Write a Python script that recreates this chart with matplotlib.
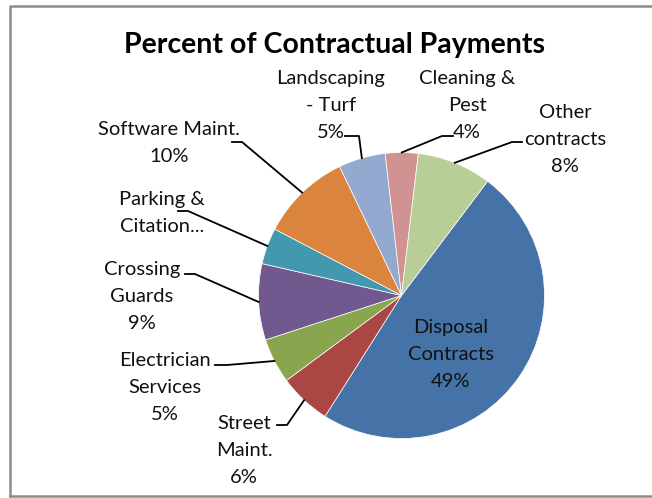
import matplotlib
matplotlib.use("Agg")
import matplotlib.pyplot as plt
from matplotlib.lines import Line2D
import numpy as np

# ---- data -------------------------------------------------------------
title = "Percent of Contractual Payments"
categories = [
    "Disposal\nContracts",
    "Street\nMaint.",
    "Electrician\nServices",
    "Crossing\nGuards",
    "Parking &\nCitation...",
    "Software Maint.",
    "Landscaping\n- Turf",
    "Cleaning &\nPest",
    "Other\ncontracts",
]
shares = [48.7, 5.9, 5.1, 8.6, 4.1, 10.2, 5.3, 3.7, 8.4]
show_pct = [True, True, True, True, False, True, True, True, True]
colors = ["#4572A7", "#AA4643", "#89A54E", "#71588F", "#4198AF",
          "#DB843D", "#93A9CF", "#D19392", "#B9CD96"]

# ---- layout (pixels, y measured downward) ------------------------------
W, H = 652, 498
CX, CY, R = 401.5, 295.5, 143
LINE_GAP = 27
# label centre x, first baseline y, leader start, leader elbow
label_layout = [
    (451, 333, None, None),
    (244, 429, (277, 425), (287, 425)),
    (165, 366, (215, 365), (227, 365)),
    (142, 275, (185, 274), (195, 274)),
    (162, 205, (178, 211), (188, 211)),
    (169, 135, (232, 142), (242, 142)),
    (331, 84, (345, 136), (359, 136)),
    (467, 84, (453, 136), (442, 136)),
    (565, 118, (522, 142), (512, 142)),
]

FONT = "Lato"
TEXT_COLOR = "#111111"

fig = plt.figure(figsize=(W / 100, H / 100), dpi=100)
fig.patch.set_facecolor("white")

pie_ax = fig.add_axes([(CX - R) / W, (H - CY - R) / H, 2 * R / W, 2 * R / H])
wedges, _ = pie_ax.pie(
    shares, colors=colors, startangle=53, counterclock=False, radius=1,
    wedgeprops=dict(edgecolor="white", linewidth=0.5),
)
pie_ax.set_xlim(-1, 1)
pie_ax.set_ylim(-1, 1)
pie_ax.axis("off")

ov = fig.add_axes([0, 0, 1, 1])
ov.set_xlim(0, W)
ov.set_ylim(H, 0)
ov.axis("off")

# chart frame
ov.add_line(Line2D([10, 10, 660], [496, 6, 6], color="#8c8c8c", lw=1.8))
ov.add_line(Line2D([10, 660], [496, 496], color="#8c8c8c", lw=1.8))

ov.text(335, 53, title, ha="center", va="baseline", fontsize=20.5,
        fontweight="bold", family=FONT, color="black")

for w, cat, v, pct, (lx, ly, start, elbow) in zip(
        wedges, categories, shares, show_pct, label_layout):
    lines = cat.split("\n")
    if pct:
        lines.append(f"{round(v)}%")
    for i, s in enumerate(lines):
        ov.text(lx, ly + i * LINE_GAP, s, ha="center", va="baseline",
                fontsize=14.5, family=FONT, color=TEXT_COLOR)
    if start is not None:
        mid = np.deg2rad((w.theta1 + w.theta2) / 2)
        ax_pt = (CX + R * np.cos(mid), CY - R * np.sin(mid))
        ov.add_line(Line2D([start[0], elbow[0], ax_pt[0]],
                           [start[1], elbow[1], ax_pt[1]],
                           color="black", lw=1.3))

fig.savefig("out.png", dpi=100)
